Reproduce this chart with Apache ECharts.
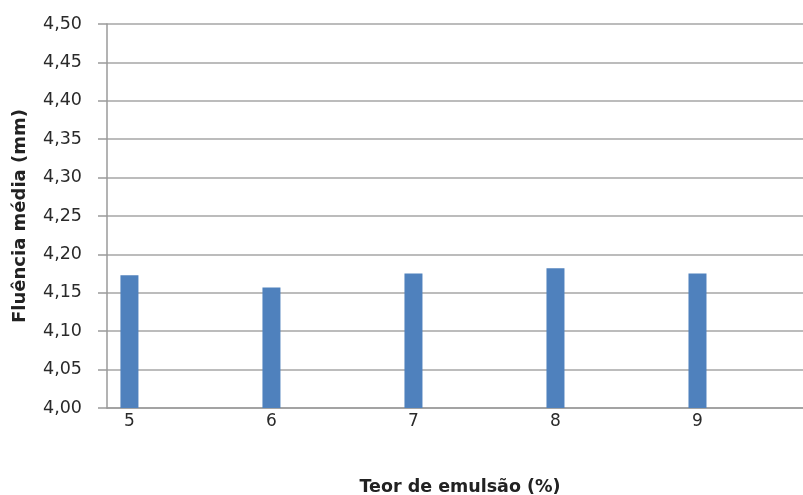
<!DOCTYPE html>
<html>
<head>
<meta charset="utf-8">
<script src="https://cdn.jsdelivr.net/npm/echarts@6/dist/echarts.min.js"></script>
<style>
  html, body { margin: 0; padding: 0; background: #fff; }
  #chart { width: 803px; height: 495px; }
</style>
</head>
<body>
<div id="chart"></div>
<script>
// Emulsion content (%) and mean flow (mm)
const teorEmulsao = [5, 6, 7, 8, 9];
const fluenciaMedia = [4.173, 4.157, 4.175, 4.182, 4.175];
const yTicks = [4.00, 4.05, 4.10, 4.15, 4.20, 4.25, 4.30, 4.35, 4.40, 4.45, 4.50];

const chart = echarts.init(document.getElementById('chart'));
const font = '"DejaVu Sans", "Open Sans", sans-serif';

chart.setOption({
  animation: false,
  grid: { left: 107, right: 0, top: 24, bottom: 87, outerBoundsMode: 'none' },
  xAxis: {
    type: 'value',
    min: 4.842,
    max: 9.743,
    name: 'Teor de emulsão (%)',
    nameLocation: 'middle',
    nameGap: 70,
    nameTextStyle: { fontFamily: font, fontSize: 17.5, fontWeight: 'bold', color: '#222', padding: [0, 0, 0, 10] },
    axisLine: { show: true, lineStyle: { color: '#9a9a9a', width: 1.5 } },
    axisTick: { show: false },
    splitLine: { show: false },
    axisLabel: {
      customValues: teorEmulsao,
      formatter: v => String(v),
      fontFamily: font, fontSize: 17, color: '#2a2a2a', margin: 5
    }
  },
  yAxis: {
    type: 'value',
    min: yTicks[0],
    max: yTicks[yTicks.length - 1],
    interval: 0.05,
    name: 'Fluência média (mm)',
    nameLocation: 'middle',
    nameGap: 78,
    nameTextStyle: { fontFamily: font, fontSize: 18, fontWeight: 'bold', color: '#222' },
    axisLine: { show: true, lineStyle: { color: '#9a9a9a', width: 1.5 } },
    axisTick: { show: true, length: 9, lineStyle: { color: '#9a9a9a', width: 1.5 } },
    splitLine: { show: true, lineStyle: { color: '#a6a6a6', width: 1.5 } },
    axisLabel: {
      formatter: v => v.toFixed(2).replace('.', ','),
      fontFamily: font, fontSize: 17.5, color: '#2a2a2a', margin: 25
    }
  },
  series: [{
    type: 'bar',
    data: teorEmulsao.map((x, i) => [x, fluenciaMedia[i]]),
    barWidth: 18,
    itemStyle: { color: '#4f81bd' }
  }]
});
</script>
</body>
</html>
